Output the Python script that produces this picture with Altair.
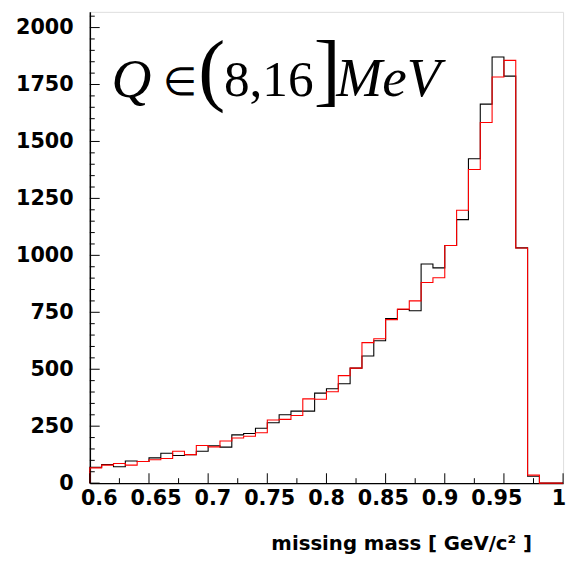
import altair as alt
import pandas as pd

# ---- data (bins of 0.01 GeV/c^2 from 0.60 to 1.00) ----
bin_low = [0.60, 0.61, 0.62, 0.63, 0.64, 0.65, 0.66, 0.67, 0.68, 0.69,
           0.70, 0.71, 0.72, 0.73, 0.74, 0.75, 0.76, 0.77, 0.78, 0.79,
           0.80, 0.81, 0.82, 0.83, 0.84, 0.85, 0.86, 0.87, 0.88, 0.89,
           0.90, 0.91, 0.92, 0.93, 0.94, 0.95, 0.96, 0.97, 0.98, 0.99]
x_end = 1.0

black_counts = [70, 82, 72, 97, 95, 111, 131, 121, 125, 140,
                164, 158, 212, 218, 241, 265, 300, 316, 316, 395,
                414, 436, 505, 558, 625, 723, 762, 757, 962, 945,
                1043, 1157, 1424, 1664, 1871, 1787, 1033, 30, 0, 0]
red_counts = [67, 79, 86, 79, 95, 103, 108, 140, 125, 165,
              159, 185, 198, 206, 221, 277, 280, 297, 370, 368,
              401, 472, 505, 617, 634, 718, 764, 800, 881, 902,
              1043, 1198, 1377, 1583, 1783, 1856, 1032, 35, 0, 0]

y_major = [0, 250, 500, 750, 1000, 1250, 1500, 1750, 2000]
y_minor = [50, 100, 150, 200, 300, 350, 400, 450, 550, 600, 650, 700,
           800, 850, 900, 950, 1050, 1100, 1150, 1200, 1300, 1350, 1400, 1450,
           1550, 1600, 1650, 1700, 1800, 1850, 1900, 1950, 2050]
x_major = [0.6, 0.65, 0.7, 0.75, 0.8, 0.85, 0.9, 0.95, 1.0]
x_labels = ["0.6", "0.65", "0.7", "0.75", "0.8", "0.85", "0.9", "0.95", "1"]
x_minor = [0.625, 0.675, 0.725, 0.775, 0.825, 0.875, 0.925, 0.975]

x_title = "missing mass [ GeV/c² ]"

W, H = 480, 478
X_DOM = [0.6, 1.0]
Y_DOM = [0, 2069]


def step_table(counts, name):
    xs = [bin_low[0]] + bin_low + [x_end]
    ys = [0] + counts + [counts[-1]]
    return pd.DataFrame({"x": xs, "y": ys, "idx": list(range(len(xs))), "s": name})


hist = pd.concat([step_table(black_counts, "black"), step_table(red_counts, "red")])

xs = alt.Scale(domain=X_DOM, nice=False, zero=False)
ys = alt.Scale(domain=Y_DOM, nice=False)

base_x_axis = alt.Axis(values=x_major, labels=False, ticks=False, grid=False,
                       domain=True, domainColor="black", domainWidth=1.5,
                       title=x_title, titleFont="DejaVu Sans", titleFontWeight="bold",
                       titleFontSize=20, titleColor="black", titleAlign="right",
                       titleAnchor="end", titleX=448, titleY=67,
                       titleBaseline="alphabetic")
base_y_axis = alt.Axis(values=y_major, format="d", ticks=False, grid=False,
                       domain=True, domainColor="black", domainWidth=1.5,
                       labelFont="DejaVu Sans", labelFontWeight="bold", labelFontSize=21,
                       labelColor="black", labelPadding=17, labelOverlap=False,
                       labelFlush=False, title=None)

lines = alt.Chart(hist).mark_line(interpolate="step-after", strokeWidth=1.1).encode(
    x=alt.X("x:Q", scale=xs, axis=base_x_axis),
    y=alt.Y("y:Q", scale=ys, axis=base_y_axis),
    color=alt.Color("s:N", scale=alt.Scale(domain=["black", "red"], range=["#000000", "#ff0000"]), legend=None),
    order=alt.Order("idx:Q"),
)

ymaj = alt.Chart(pd.DataFrame({"v": y_major})).mark_rule(color="black", strokeWidth=1).encode(
    y=alt.Y("v:Q", scale=ys), x=alt.value(0), x2=alt.value(10))
ymin = alt.Chart(pd.DataFrame({"v": y_minor})).mark_rule(color="black", strokeWidth=1).encode(
    y=alt.Y("v:Q", scale=ys), x=alt.value(0), x2=alt.value(5))
xmaj = alt.Chart(pd.DataFrame({"v": x_major})).mark_rule(color="black", strokeWidth=1).encode(
    x=alt.X("v:Q", scale=xs), y=alt.value(H), y2=alt.value(H - 10))
xmin = alt.Chart(pd.DataFrame({"v": x_minor})).mark_rule(color="black", strokeWidth=1).encode(
    x=alt.X("v:Q", scale=xs), y=alt.value(H), y2=alt.value(H - 5))

# x tick labels (ROOT-style layout: labels slightly drawn toward the centre)
xlab = alt.Chart(pd.DataFrame({"v": x_major, "t": x_labels})).transform_calculate(
    lx="0.608 + (datum.v - 0.6) * 0.96 + (datum.v >= 1 ? 0.0045 : 0)"
).mark_text(font="DejaVu Sans", fontWeight="bold", fontSize=21, color="black",
            align="center", baseline="top").encode(
    x=alt.X("lx:Q", scale=xs), y=alt.value(H + 5), text="t:N")

# formula annotation: Q ∈ (8,16] MeV
formula_parts = [
    ("Q", 22, 86, 56, "italic"),
    ("∈", 74, 84, 40, "normal"),
    ("(", 110, 85, 82, "normal"),
    ("8,16", 136, 85, 52, "normal"),
    ("]", 227, 85, 82, "normal"),
    ("MeV", 250, 85, 56, "italic"),
]
formula_layers = []
for txt, px, py, fs, style in formula_parts:
    formula_layers.append(
        alt.Chart(pd.DataFrame({"t": [txt]})).mark_text(
            font="Liberation Serif", fontSize=fs, fontStyle=style, align="left",
            baseline="alphabetic", color="black").encode(
            text="t:N", x=alt.value(px), y=alt.value(py)))

chart = alt.layer(lines, ymaj, ymin, xmaj, xmin, xlab, *formula_layers).properties(
    width=W, height=H,
    autosize=alt.AutoSizeParams(type="none"),
    padding={"left": 83, "top": 0, "right": 6, "bottom": 70},
).configure_view(stroke="#808080", strokeWidth=1.5).configure(background="white")

chart.save("out.html", embed_options={"renderer": "svg", "actions": False})
